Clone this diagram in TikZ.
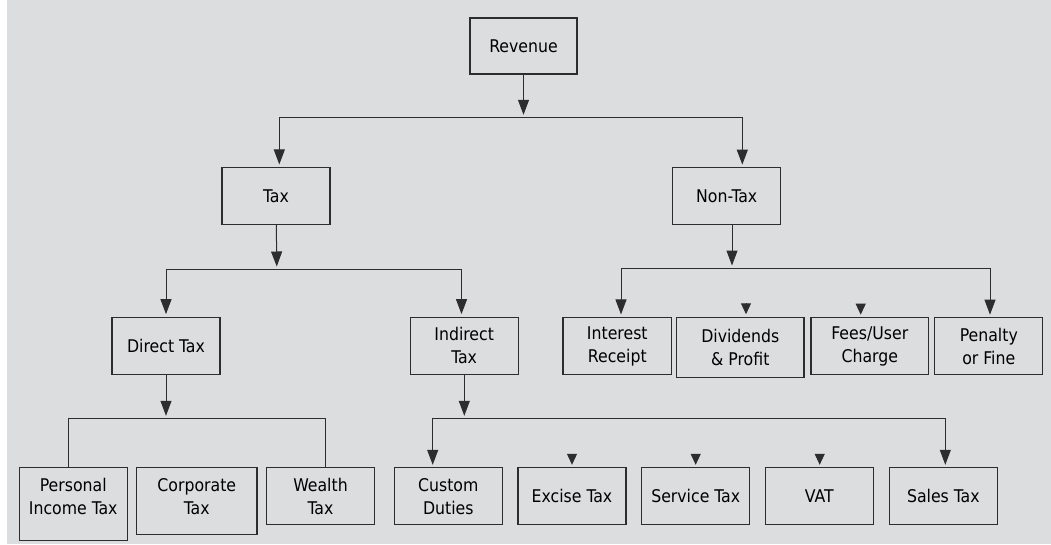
\documentclass[tikz,border=0pt]{standalone}
\usepackage{fontspec}
\setmainfont{DejaVu Sans Condensed}
\usetikzlibrary{arrows.meta, positioning}
\definecolor{bggrey}{RGB}{220,221,223}
\definecolor{edgegrey}{RGB}{45,45,45}

\begin{document}
\begin{tikzpicture}[x=1pt, y=-1pt,
	box/.style={draw=edgegrey, line width=1.1pt, minimum width=108pt, minimum height=57pt, align=center, inner sep=2pt, font=\fontsize{17.5}{23}\selectfont, text=black},
	arr/.style={-{Triangle[length=15pt,width=11pt]}, color=edgegrey, line width=1pt, shorten >=2.5pt},
	stub/.style={-{Triangle[length=11pt,width=10pt]}, color=edgegrey, line width=1pt, shorten >=2.5pt},
	bar/.style={draw=edgegrey, line width=1pt}]
		\fill[white] (0,0) rectangle (1051,544);
		\fill[bggrey] (7.3,0) rectangle (1051,544);
		\useasboundingbox (0,0) rectangle (1051,544);

		\node[box, minimum width=107pt, minimum height=56pt] (rev) at (523.5,46) {Revenue};
		\node[box] (tax) at (276,196) {Tax};
		\node[box] (nontax) at (726.7,196.2) {Non-Tax};

		\node[box] (direct) at (166,345.7) {Direct Tax};
		\node[box] (indirect) at (464.2,345.7) {Indirect\\Tax};
		\node[box, minimum width=108.7pt] (interest) at (617.3,346) {Interest\\Receipt};
		\node[box, minimum width=127.3pt, minimum height=60pt] (dividends) at (740.3,347.3) {Dividends\\\& Profit};
		\node[box, minimum width=117.7pt] (fees) at (869.8,346.2) {Fees/User\\Charge};
		\node[box] (penalty) at (988.8,346.2) {Penalty\\or Fine};

		\node[box, anchor=north, minimum height=72.7pt, text depth=15.7pt] (personal) at (73.2,467.3) {Personal\\Income Tax};
		\node[box, anchor=north, minimum width=120.3pt, minimum height=66.7pt, text depth=9.7pt] (corporate) at (196.8,467.3) {Corporate\\Tax};
		\node[box, anchor=north] (wealth) at (320.5,467.3) {Wealth\\Tax};
		\node[box, anchor=north] (custom) at (448.3,467.3) {Custom\\Duties};
		\node[box, anchor=north] (excise) at (572,467.3) {Excise Tax};
		\node[box, anchor=north] (service) at (695.7,467.3) {Service Tax};
		\node[box, anchor=north] (vat) at (819.3,467.3) {VAT};
		\node[box, anchor=north] (sales) at (943.3,467.3) {Sales Tax};

		\coordinate (revbar) at (523.5,117.3);
		\coordinate (revL) at (279.3,117.3);
		\coordinate (revR) at (742.3,117.3);
		\coordinate (taxbar) at (276.8,269);
		\coordinate (taxL) at (166,269);
		\coordinate (taxR) at (461.5,269);
		\coordinate (ntbar) at (732,268);
		\coordinate (ntL) at (621,268);
		\coordinate (ntR) at (990,268);
		\coordinate (dbar) at (166,418.3);
		\coordinate (dL) at (68,418.3);
		\coordinate (dR) at (325.7,418.3);
		\coordinate (ibar) at (464.3,418.3);
		\coordinate (iL) at (432.7,418.3);
		\coordinate (iR) at (945.3,418.3);

		\draw[bar] (revL) -- (revR);
		\draw[bar] (taxL) -- (taxR);
		\draw[bar] (ntL) -- (ntR);
		\draw[bar] (personal.north -| dL) -- (dL) -- (dR) -- (dR |- wealth.north);
		\draw[bar] (iL) -- (iR);

		\path[arr]
		(rev) edge (revbar)
		(revL) edge (revL |- tax.north)
		(revR) edge (revR |- nontax.north)

		(tax) edge (taxbar)
		(taxL) edge (direct)
		(taxR) edge (taxR |- indirect.north)

		(ntbar |- nontax.south) edge (ntbar)
		(ntL) edge (ntL |- interest.north)
		(ntR) edge (ntR |- penalty.north)

		(direct) edge (dbar)

		(indirect.south -| ibar) edge (ibar)
		(iL) edge (iL |- custom.north)
		(iR) edge (iR |- sales.north);

		\draw[stub] (dividends.north) ++(5.7,-13.5) -- ++(0,13.5);
		\draw[stub] (fees.north) ++(-9.1,-13.5) -- ++(0,13.5);
		\draw[stub] (excise.north) ++(0,-13.5) -- ++(0,13.5);
		\draw[stub] (service.north) ++(0,-13.5) -- ++(0,13.5);
		\draw[stub] (vat.north) ++(0.4,-13.5) -- ++(0,13.5);
\end{tikzpicture}
\end{document}
